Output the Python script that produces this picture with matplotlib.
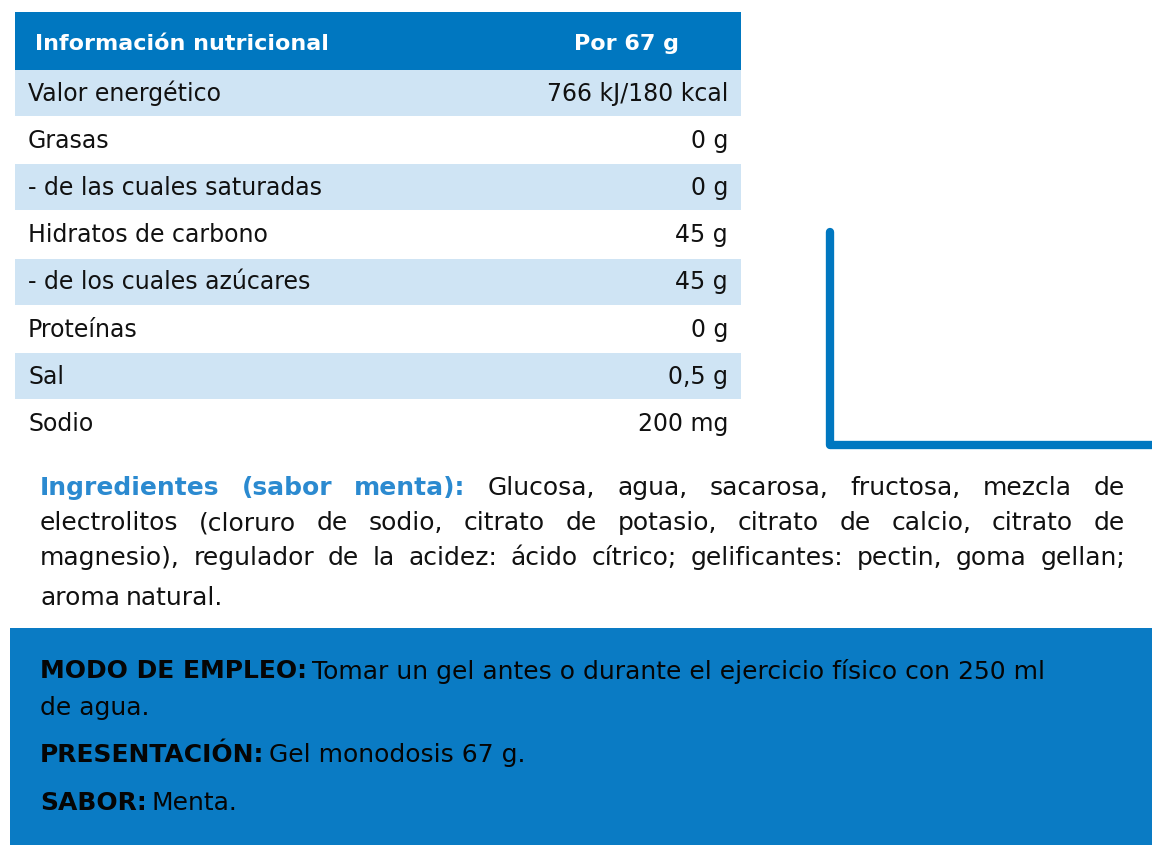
import matplotlib
matplotlib.use("Agg")
import matplotlib.pyplot as plt
from matplotlib.patches import Rectangle

nutrients = ["Valor energético", "Grasas", "- de las cuales saturadas", "Hidratos de carbono",
             "- de los cuales azúcares", "Proteínas", "Sal", "Sodio"]
amounts = ["766 kJ/180 kcal", "0 g", "0 g", "45 g", "45 g", "0 g", "0,5 g", "200 mg"]
header = ["Información nutricional", "Por 67 g"]
ingr_label = "Ingredientes (sabor menta):"
ingr_lines = ["Glucosa, agua, sacarosa, fructosa, mezcla de",
              "electrolitos (cloruro de sodio, citrato de potasio, citrato de calcio, citrato de",
              "magnesio), regulador de la acidez: ácido cítrico; gelificantes: pectin, goma gellan;",
              "aroma natural."]

FAM = ["DejaVu Sans Condensed", "Liberation Sans Narrow", "DejaVu Sans"]
BLUE = "#0077C0"
LIGHT = "#CFE4F4"

fig = plt.figure(figsize=(11.52, 8.5), dpi=100)
ax = fig.add_axes([0, 0, 1, 1])
ax.set_xlim(0, 1152); ax.set_ylim(850, 0); ax.axis("off")

x0, x1 = 15, 741
ax.add_patch(Rectangle((x0, 12), x1 - x0, 58, color=BLUE, lw=0))
ax.text(35, 44, header[0], fontsize=16, fontweight="bold", color="white", family=FAM, va="center")
ax.text(626, 44, header[1], fontsize=16, fontweight="bold", color="white", family=FAM, va="center", ha="center")
rh = 47.2
for i, (n, a) in enumerate(zip(nutrients, amounts)):
    y = 70 + i * rh
    if i % 2 == 0:
        ax.add_patch(Rectangle((x0, y), x1 - x0, rh - 1.5, color=LIGHT, lw=0))
    ax.text(28, y + rh / 2, n, fontsize=17, family=FAM, va="center", color="#111")
    ax.text(728, y + rh / 2, a, fontsize=17, family=FAM, va="center", ha="right", color="#111")

ax.plot([830, 830, 1152], [232, 445, 445], color=BLUE, lw=6, solid_joinstyle="round", solid_capstyle="round")

fig.canvas.draw()
r = fig.canvas.get_renderer()
inv = ax.transData.inverted()
def width(t):
    bb = t.get_window_extent(renderer=r)
    return abs(inv.transform((bb.x1, 0))[0] - inv.transform((bb.x0, 0))[0])
L, R = 40, 1125
ys = [488, 523, 558, 598]
for li, (line, y) in enumerate(zip(ingr_lines, ys)):
    tokens = []
    if li == 0:
        for w in ingr_label.split(" "):
            tokens.append((w, "#2B8AD0", "bold"))
    for w in line.split(" "):
        tokens.append((w, "#111", "normal"))
    arts = [ax.text(0, y, w, fontsize=18, family=FAM, color=c, fontweight=fw, va="center") for w, c, fw in tokens]
    ws = [width(a) for a in arts]
    gap = (R - L - sum(ws)) / (len(arts) - 1) if li < len(ingr_lines) - 1 else 6
    x = L
    for a, w in zip(arts, ws):
        a.set_x(x); x += w + gap

ax.add_patch(Rectangle((10, 628), 1142, 217, color="#0A7BC4", lw=0))
def mixed(x, y, bold, normal, fs=19):
    t = ax.text(x, y, bold, fontsize=fs, fontweight="bold", family=FAM, va="center", color="#050505")
    w = width(t)
    ax.text(x + w + 5, y, normal, fontsize=fs, family=FAM, va="center", color="#050505")
mixed(40, 671, "MODO DE EMPLEO:", "Tomar un gel antes o durante el ejercicio físico con 250 ml", fs=18)
ax.text(40, 708, "de agua.", fontsize=18, family=FAM, va="center", color="#050505")
mixed(40, 755, "PRESENTACIÓN:", "Gel monodosis 67 g.", fs=18)
mixed(40, 803, "SABOR:", "Menta.", fs=18)

fig.savefig("out.png", dpi=100)
